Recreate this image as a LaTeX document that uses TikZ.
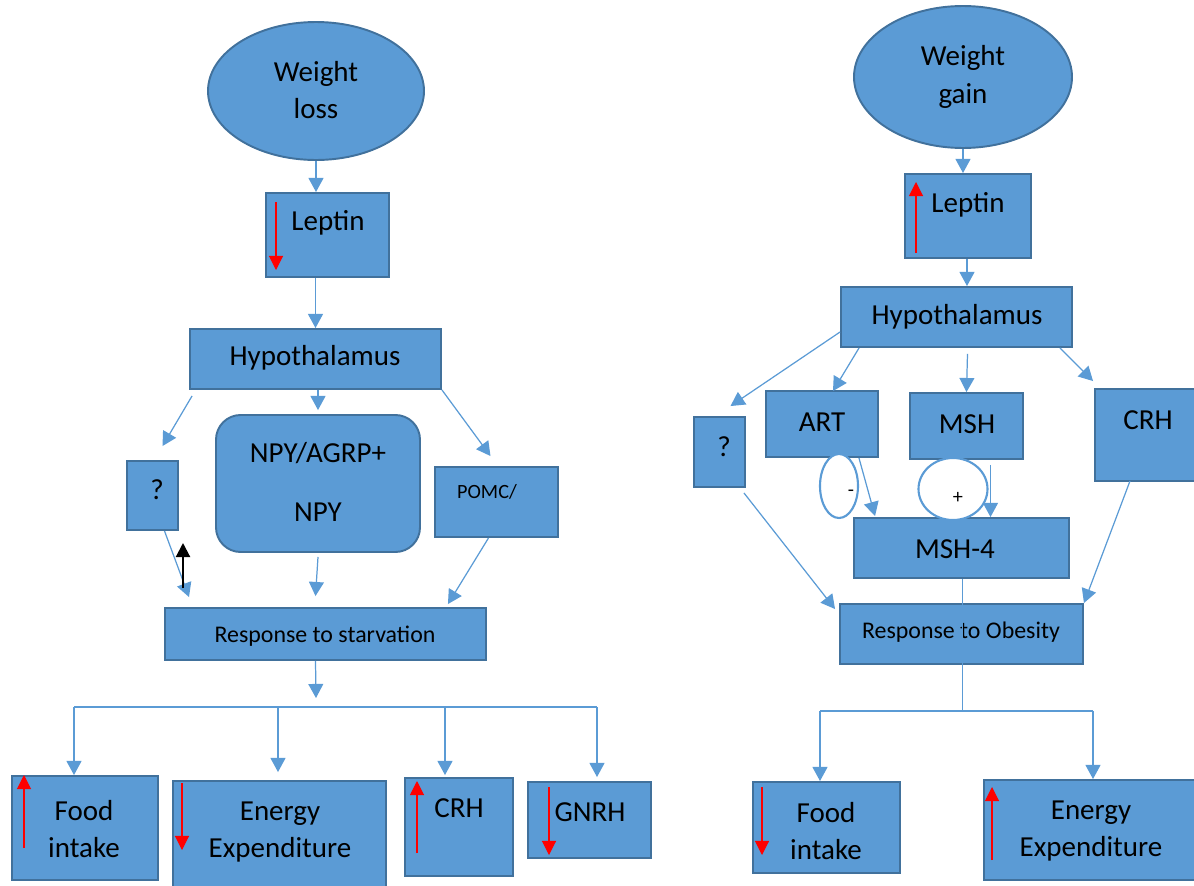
\documentclass[tikz,border=0pt]{standalone}
\usepackage{fontspec}
\setmainfont{Carlito}
\usetikzlibrary{shapes.geometric,arrows.meta,calc}
\definecolor{fillblue}{HTML}{5B9BD5}
\definecolor{edgeblue}{HTML}{41719C}
\begin{document}
\begin{tikzpicture}[x=0.02cm,y=-0.02cm,
  box/.style 2 args={rectangle, draw=edgeblue, fill=fillblue, line width=1.1pt, inner sep=0pt,
    minimum width=#1*0.02cm, minimum height=#2*0.02cm},
  oval/.style 2 args={ellipse, draw=edgeblue, fill=fillblue, line width=1.1pt, inner sep=0pt,
    minimum width=#1*0.02cm, minimum height=#2*0.02cm},
  txt/.style={font=\fontsize{16.5}{21.5}\selectfont, align=center, inner sep=0pt, text=black},
  smalltxt/.style={font=\fontsize{13.6}{16}\selectfont, align=center, inner sep=0pt, text=black},
  tinytxt/.style={font=\fontsize{11.5}{14}\selectfont, inner sep=0pt, text=black},
  arr/.style={draw=fillblue, line width=0.7pt, -{Triangle[length=8pt,width=8.5pt]}},
  plain/.style={draw=fillblue, line width=0.7pt},
  redarr/.style={draw=red, line width=0.6pt, -{Triangle[length=8pt,width=8pt]}},
  blkarr/.style={draw=black, line width=1.2pt, -{Triangle[length=8pt,width=8pt]}},
  sign/.style 2 args={ellipse, draw=fillblue, fill=white, line width=1.2pt, inner sep=0pt,
    minimum width=#1*0.02cm, minimum height=#2*0.02cm}]
\useasboundingbox (0,0) rectangle (1194,886);
\clip (0,0) rectangle (1194,886);

% ================= LEFT =================
\node[oval={216}{138}] (wl) at (316,91) {};
\node[txt] (wlt) at (316,90) {Weight\\loss};
\node[box={123}{84}] (lepL) at (327.5,235) {};
\node[txt] (lepLt) at (328,223) {Leptin};
\node[box={251}{60}] (hypL) at (315.5,359) {};
\node[txt] (hypLt) at (315,358) {Hypothalamus};
\node[box={51}{69}] (qL) at (152.5,495.5) {};
\node[txt] (qLt) at (157,490) {?};
\node[rectangle, rounded corners=14pt, draw=edgeblue, fill=fillblue, line width=1.1pt,
  minimum width=204*0.02cm, minimum height=137*0.02cm] (npy) at (318,483.5) {};
\node[txt] (npyt) at (318,482) {NPY/AGRP+\\[12.5pt]NPY};
\node[box={123}{70}] (pomc) at (496.5,502) {};
\node[tinytxt] (pomct) at (487,492) {POMC/};
\node[box={321}{52}] (resS) at (325.5,634) {};
\node[smalltxt] (resSt) at (325,636) {Response to starvation};
\node[box={146}{104}] (foodL) at (85,828) {};
\node[txt] (foodLt) at (84,829) {Food\\intake};
\node[box={213}{115}] (energyL) at (279.5,838.5) {};
\node[txt] (energyLt) at (280,832) {Energy\\Expenditure};
\node[box={108}{98}] (crhL) at (459,827) {};
\node[txt] (crhLt) at (459,808) {CRH};
\node[box={123}{76}] (gnrh) at (589.5,820) {};
\node[txt] (gnrht) at (590,812) {GNRH};

% red arrows (left)
\draw[redarr] (276,202) -- (276,270);
\draw[redarr] (24,848) -- (24,775);
\draw[redarr] (182,783) -- (182,850);
\draw[redarr] (417,853) -- (417,781);
\draw[redarr] (549,787) -- (549,855);

% connectors (left)
\draw[arr] (wl.south) -- (wl.south |- lepL.north);
\draw[arr] (hypL.north |- lepL.south) -- (hypL.north);
\draw[arr] ([shift={(3,6)}]hypL.south west) -- ([shift={(10,-14)}]qL.north);
\draw[arr] (npy.north |- hypL.south) -- ([shift={(0,-4)}]npy.north);
\draw[arr] (hypL.south east) -- ([shift={(-6,-10)}]pomc.north);
\draw[arr] ([shift={(12,0)}]qL.south) -- ([shift={(25,-10)}]resS.north west);
\draw[arr] ([shift={(0,4)}]npy.south) -- ([shift={(-10,-11)}]resS.north);
\draw[arr] ([shift={(-8,0)}]pomc.south) -- ([shift={(-39,-3)}]resS.north east);
\coordinate (bk1) at (183,588);
\coordinate (bk2) at (183,543);
\draw[blkarr] (bk1) -- (bk2);
\coordinate (bL) at (316,698);
\draw[arr] ([shift={(-10,0)}]resS.south) -- (bL);
\coordinate (hL1) at (74,707);
\coordinate (hL3) at (278,707);
\coordinate (hL4) at (445,707);
\coordinate (hL2) at (597,707);
\draw[plain] (hL1) -- (hL2);
\draw[arr] (hL1) -- (hL1 |- foodL.north);
\draw[arr] (hL3) -- ($(hL3 |- energyL.north)+(0,-8)$);
\draw[arr] (hL4) -- ($(hL4 |- crhL.north)+(0,-2)$);
\draw[arr] (hL2) -- ($(hL2 |- gnrh.north)+(0,-4)$);

% ================= RIGHT =================
\node[oval={218}{142}] (wg) at (963,77) {};
\node[txt] (wgt) at (963,77) {Weight\\gain};
\node[box={126}{84}] (lepR) at (968,216) {};
\node[txt] (lepRt) at (968,205) {Leptin};
\node[box={231}{60}] (hypR) at (956.5,317) {};
\node[txt] (hypRt) at (957,317) {Hypothalamus};
\node[box={51}{70}] (qR) at (719.5,452) {};
\node[txt] (qRt) at (724,447) {?};
\node[box={112}{66}] (art) at (822,424) {};
\node[txt] (artt) at (822,422) {ART};
\node[box={113}{66}] (msh) at (966.5,426) {};
\node[txt] (msht) at (967,424) {MSH};
\node[box={100}{92}] (crhR) at (1145,435) {};
\node[txt] (crhRt) at (1148,420) {CRH};
\node[box={215}{60}] (msh4) at (961.5,548) {};
\node[txt] (msh4t) at (955,549) {MSH-4};
\node[box={243}{60}] (resO) at (961.5,634) {};
\node[smalltxt] (resOt) at (961,632) {Response to Obesity};
\node[box={147}{91}] (foodR) at (826.5,827.5) {};
\node[txt] (foodRt) at (826,831) {Food\\intake};
\node[box={216}{100}] (energyR) at (1092,830) {};
\node[txt] (energyRt) at (1091,831) {Energy\\Expenditure};

% red arrows (right)
\draw[redarr] (916,253) -- (916,182);
\draw[redarr] (762,787) -- (762,855);
\draw[redarr] (992,860) -- (992,787);

% connectors (right)
\draw[arr] (wg.south) -- (wg.south |- lepR.north);
\draw[arr] (lepR.south -| 967,0) -- (hypR.north -| 967,0);
\draw[arr] ([shift={(0,15)}]hypR.west) -- ([shift={(11,-10)}]qR.north);
\draw[arr] ([shift={(19,0)}]hypR.south west) -- ([shift={(11,1)}]art.north);
\draw[arr] ([shift={(11,6)}]hypR.south) -- (msh.north);
\draw[arr] ([shift={(-13,0)}]hypR.south east) -- ([shift={(-1,-7)}]crhR.north west);
\draw[arr] ([shift={(-20,0)}]art.south east) -- ([shift={(22,-1)}]msh4.north west);
\node[sign={38}{64}] (minus) at (839,486) {};
\node[tinytxt] (minust) at (851,493) {-};
\node[sign={69}{62}] (plus) at (953,489) {};
\node[tinytxt] (plust) at (958,498) {+};
\draw[arr] ($(msh.south)+(24,5)$) -- ($(msh.south |- msh4.north)+(24,0)$);
\draw[arr] ([shift={(-2,5)}]qR.south east) -- ([shift={(-4,6)}]resO.north west);
\draw[arr] ([shift={(-15,-1)}]crhR.south) -- (resO.north east);
\coordinate (hR1) at (820,711);
\coordinate (hRm) at (962,711);
\coordinate (hR2) at (1093,711);
\draw[plain] (hR1) -- (hR2);
\draw[plain, line width=0.5pt] (msh4.south -| hRm) -- (hRm);
\draw[arr] (hR1) -- (hR1 |- foodR.north);
\draw[arr] (hR2) -- (hR2 |- energyR.north);
\end{tikzpicture}
\end{document}
